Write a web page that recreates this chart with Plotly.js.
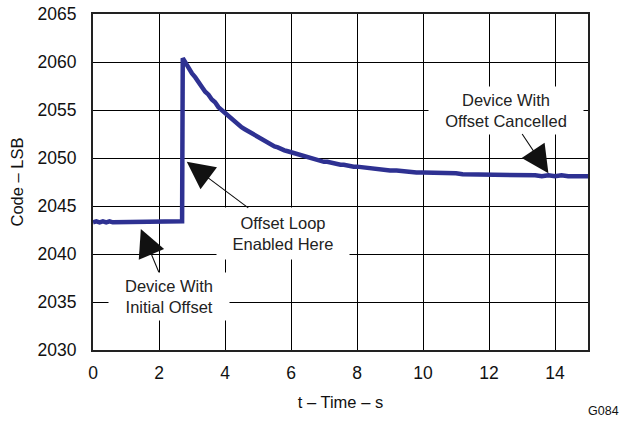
<!DOCTYPE html>
<html>
<head>
<meta charset="utf-8">
<script src="https://cdn.plot.ly/plotly-3.0.1.min.js"></script>
<style>html,body{margin:0;padding:0;background:#fff;}#chart{width:621px;height:423px;}</style>
</head>
<body>
<div id="chart"></div>
<script>
// Time (s)
var timeS = [
  0.0,0.1,0.2,0.3,0.4,0.5,0.6,0.7,0.8,0.9,1.0,1.1,1.2,1.3,1.4,1.5,1.6,1.7,1.8,1.9,2.0,2.1,2.2,2.3,2.4,2.5,2.6,2.7,
  2.72,
  2.8,2.9,3.0,3.1,3.2,3.3,3.4,3.5,3.6,3.7,3.8,3.9,4.0,4.1,4.2,4.3,4.4,4.5,4.6,4.7,4.8,4.9,5.0,5.1,5.2,5.3,5.4,5.5,5.6,5.7,5.8,5.9,
  6.0,6.1,6.2,6.3,6.4,6.5,6.6,6.7,6.8,6.9,7.0,7.1,7.2,7.3,7.4,7.5,7.6,7.7,7.8,7.9,8.0,
  8.2,8.4,8.6,8.8,9.0,9.2,9.4,9.6,9.8,10.0,10.2,10.4,10.6,10.8,11.0,11.2,11.4,11.6,11.8,12.0,12.2,12.4,12.6,12.8,13.0,
  13.2,13.4,13.6,13.8,14.0,14.2,14.4,14.6,14.8,15.0
];
// Output code (LSB)
var codeLSB = [
  2043.3,2043.4,2043.3,2043.4,2043.3,2043.4,2043.3,2043.3,2043.4,2043.3,2043.4,2043.3,2043.4,2043.3,2043.4,2043.3,2043.4,2043.3,2043.4,2043.3,2043.4,2043.3,2043.3,2043.4,2043.3,2043.4,2043.3,2043.4,
  2060.4,
  2059.9,2059.3,2058.8,2058.4,2057.8,2057.4,2056.9,2056.6,2056.1,2055.8,2055.3,2055.0,2054.6,2054.3,2054.0,2053.8,2053.5,2053.2,2053.0,2052.8,2052.5,2052.3,2052.1,2051.9,2051.7,2051.6,2051.4,2051.2,2051.1,2050.9,2050.8,2050.7,
  2050.6,2050.4,2050.3,2050.2,2050.1,2050.0,2049.95,2049.9,2049.8,2049.7,2049.6,2049.6,2049.5,2049.4,2049.4,2049.3,2049.3,2049.2,2049.2,2049.1,2049.1,
  2049.0,2048.9,2048.9,2048.8,2048.7,2048.7,2048.6,2048.6,2048.5,2048.5,2048.5,2048.4,2048.4,2048.4,2048.4,2048.3,2048.3,2048.3,2048.3,2048.2,2048.2,2048.2,2048.2,2048.2,2048.2,
  2048.2,2048.2,2048.1,2048.2,2048.1,2048.2,2048.1,2048.1,2048.1,2048.1
];
var xTicks = [0,2,4,6,8,10,12,14];
var yTicks = [2030,2035,2040,2045,2050,2055,2060,2065];

var lineColor = '#2E3192';
var fontFam = '"Liberation Sans", Arial, Helvetica, sans-serif';

var trace = {
  x: timeS, y: codeLSB, type: 'scatter', mode: 'lines',
  line: {color: lineColor, width: 4.5},
  hoverinfo: 'skip'
};

var annoFont = {family: fontFam, size: 16.5, color: '#222'};
var layout = {
  width: 621, height: 423,
  margin: {l: 93, r: 33, t: 14, b: 73},
  paper_bgcolor: '#fff', plot_bgcolor: '#fff',
  showlegend: false,
  font: {family: fontFam, color: '#111'},
  xaxis: {
    range: [0, 15], tickvals: xTicks, ticktext: xTicks.map(String),
    showgrid: true, gridcolor: '#000', gridwidth: 1,
    showline: true, linecolor: '#222', linewidth: 2, mirror: true,
    zeroline: false, ticks: '', ticklabelstandoff: 6,
    tickfont: {family: fontFam, size: 17.5, color: '#111'},
    title: {text: 't – Time – s', font: {family: fontFam, size: 16.5, color: '#111'}, standoff: 14}
  },
  yaxis: {
    range: [2030, 2065], tickvals: yTicks, ticktext: yTicks.map(String),
    showgrid: true, gridcolor: '#000', gridwidth: 1,
    showline: true, linecolor: '#222', linewidth: 2, mirror: true,
    zeroline: false, ticks: '', ticklabelstandoff: 11,
    tickfont: {family: fontFam, size: 17.5, color: '#111'},
    title: {text: 'Code – LSB', font: {family: fontFam, size: 16.5, color: '#111'}, standoff: 10}
  },
  annotations: [
    {x: 2.84, y: 2049.6, xref: 'x', yref: 'y', ax: 5.76, ay: 2042.1, axref: 'x', ayref: 'y',
     text: 'Offset Loop<br>Enabled Here', showarrow: true, arrowhead: 2, arrowsize: 5, arrowwidth: 1.1,
     arrowcolor: '#111', font: annoFont, bgcolor: '#fff', borderpad: 6, width: 120},
    {x: 1.45, y: 2042.6, xref: 'x', yref: 'y', ax: 2.30, ay: 2035.6, axref: 'x', ayref: 'y',
     text: 'Device With<br>Initial Offset', showarrow: true, arrowhead: 2, arrowsize: 5, arrowwidth: 1.1,
     arrowcolor: '#111', font: annoFont, bgcolor: '#fff', borderpad: 4, width: 112},
    {x: 13.8, y: 2048.4, xref: 'x', yref: 'y', ax: 12.52, ay: 2055.0, axref: 'x', ayref: 'y',
     text: 'Device With<br>Offset Cancelled', showarrow: true, arrowhead: 2, arrowsize: 5, arrowwidth: 1.1,
     arrowcolor: '#111', font: annoFont, bgcolor: '#fff', borderpad: 4, width: 146},
    {x: 0, y: 0, xref: 'paper', yref: 'paper', xanchor: 'center', yanchor: 'middle', text: 'G084', showarrow: false,
     font: {family: fontFam, size: 12.5, color: '#111'}}
  ]
};
layout.annotations[3].x = (603 - 93) / (621 - 93 - 33);
layout.annotations[3].y = -(411 - 350) / (423 - 14 - 73);

Plotly.newPlot('chart', [trace], layout, {staticPlot: true, displayModeBar: false});
</script>
</body>
</html>
